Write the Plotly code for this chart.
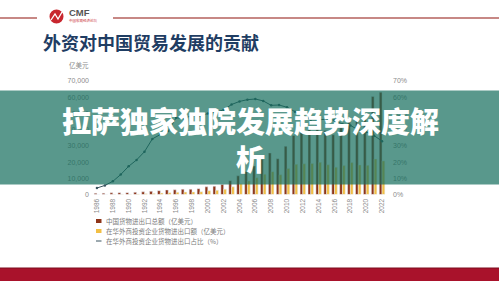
import plotly.graph_objects as go

W, H = 499, 281

years = [str(y) for y in range(1986, 2023)]
china_total = [738, 827, 1028, 1117, 1154, 1357, 1655, 1957, 2366, 2809, 2899, 3252, 3239,
               3606, 4743, 5097, 6208, 8510, 11546, 14219, 17604, 21762, 25633, 22075, 29740,
               36419, 38671, 41590, 43015, 39530, 36856, 41071, 46224, 45779, 46559, 60515, 63096]
fie_trade = [30, 46, 83, 137, 201, 289, 437, 670, 876, 1098, 1371, 1526, 1577, 1745, 2367,
             2591, 3302, 4723, 6631, 8317, 10364, 12549, 14106, 12174, 16003, 18601, 18940,
             19191, 19840, 18346, 16874, 17816, 19681, 18239, 17976, 21952, 20730]
fie_share = [4.0, 5.6, 8.1, 12.3, 17.4, 21.3, 26.4, 34.3, 37.0, 39.1, 47.3, 46.9, 48.7, 48.4,
             49.9, 50.8, 52.2, 55.5, 57.4, 58.5, 58.9, 57.7, 55.0, 55.2, 53.8, 51.1, 49.0,
             46.1, 46.1, 46.4, 45.8, 43.4, 42.6, 39.9, 38.6, 36.3, 32.9]

legend_names = ["中国货物进出口总额（亿美元）",
                "在华外商投资企业货物进出口额（亿美元）",
                "在华外商投资企业货物进出口占比（%）"]

C_TOTAL = "#8e3519"
C_FIE = "#f2bf45"
C_LINE = "#3b5560"


def X(px):
    return px / W


def Y(py):
    return 1 - py / H


fig = go.Figure()
fig.add_trace(go.Bar(x=years, y=china_total, marker_color=C_TOTAL, name=legend_names[0]))
fig.add_trace(go.Bar(x=years, y=fie_trade, marker_color=C_FIE, name=legend_names[1]))
fig.add_trace(go.Scatter(x=years, y=fie_share, yaxis="y2", mode="lines+markers",
                         line=dict(color=C_LINE, width=1), marker=dict(size=2.5, color=C_LINE),
                         name=legend_names[2]))

tickfont = dict(family="Liberation Sans, Arial", size=7, color="#8a8a8a")

fig.update_layout(
    width=W, height=H, margin=dict(l=0, r=0, t=0, b=0, autoexpand=False),
    paper_bgcolor="white", plot_bgcolor="rgba(0,0,0,0)",
    showlegend=False, barmode="group", bargap=0.3, bargroupgap=0,
    xaxis=dict(domain=[X(93), X(386)], type="category", range=[-0.5, len(years) - 0.5],
               tickangle=-90, automargin=False,
               tickfont=dict(family="Liberation Sans, Arial", size=6.5, color="#8a8a8a"),
               showgrid=False, zeroline=False, showline=False, ticks="", ticklabelstandoff=2),
    yaxis=dict(domain=[Y(194.5), Y(81)], range=[0, 70000], dtick=10000, tickformat=",d",
               tickfont=tickfont, showgrid=False, zeroline=False, showline=False,
               ticklabelstandoff=3, automargin=False),
    yaxis2=dict(overlaying="y", side="right", range=[0, 70], dtick=10, ticksuffix="%",
                tickfont=tickfont, showgrid=False, zeroline=False, showline=False,
                ticklabelstandoff=6, automargin=False),
)

shapes = []
annotations = []

# header line and logo
shapes.append(dict(type="line", xref="paper", yref="paper", x0=X(0), x1=X(37), y0=Y(18), y1=Y(18),
                   line=dict(color="#b5615c", width=1.6)))
shapes.append(dict(type="line", xref="paper", yref="paper", x0=X(113), x1=X(499), y0=Y(18), y1=Y(18),
                   line=dict(color="#b5615c", width=1.6)))
shapes.append(dict(type="circle", xref="paper", yref="paper", x0=X(49.5), x1=X(63.5), y0=Y(23.5), y1=Y(9.5),
                   fillcolor="#c8262e", line=dict(width=0)))
shapes.append(dict(type="path", xref="paper", yref="paper",
                   path=f"M {X(51)},{Y(20)} L {X(55)},{Y(14)} L {X(58)},{Y(19)} L {X(62)},{Y(12)}",
                   line=dict(color="white", width=1.3)))
annotations.append(dict(text="<b>CMF</b>", x=X(67), y=Y(13), xref="paper", yref="paper",
                        xanchor="left", yanchor="middle", showarrow=False,
                        font=dict(family="Liberation Sans, Arial", size=9.5, color="#555555")))
annotations.append(dict(text="中国宏观经济论坛", x=X(67), y=Y(20.5), xref="paper", yref="paper",
                        xanchor="left", yanchor="middle", showarrow=False,
                        font=dict(family="Noto Sans CJK SC", size=3.5, color="#c8262e")))

# title
annotations.append(dict(text="<b>外资对中国贸易发展的贡献</b>", x=X(41), y=Y(42), xref="paper", yref="paper",
                        xanchor="left", yanchor="middle", showarrow=False,
                        font=dict(family="Noto Sans CJK SC", size=18, color="#1f3d63")))
annotations.append(dict(text="亿美元", x=X(79), y=Y(65), xref="paper", yref="paper",
                        xanchor="center", yanchor="middle", showarrow=False,
                        font=dict(family="Noto Sans CJK SC", size=6.5, color="#8a8a8a")))

# manual legend
leg_y = [221, 231, 241]
shapes.append(dict(type="rect", xref="paper", yref="paper", x0=X(96), x1=X(101.5),
                   y0=Y(leg_y[0] + 2), y1=Y(leg_y[0] - 2), fillcolor=C_TOTAL, line=dict(width=0)))
shapes.append(dict(type="rect", xref="paper", yref="paper", x0=X(96), x1=X(101.5),
                   y0=Y(leg_y[1] + 2), y1=Y(leg_y[1] - 2), fillcolor=C_FIE, line=dict(width=0)))
shapes.append(dict(type="line", xref="paper", yref="paper", x0=X(96), x1=X(101.5),
                   y0=Y(leg_y[2]), y1=Y(leg_y[2]), line=dict(color=C_LINE, width=1)))
for name, ly in zip(legend_names, leg_y):
    annotations.append(dict(text=name, x=X(104), y=Y(ly), xref="paper", yref="paper",
                            xanchor="left", yanchor="middle", showarrow=False,
                            font=dict(family="Noto Sans CJK SC", size=6.5, color="#7a7a7a")))

# bottom red bar
shapes.append(dict(type="rect", xref="paper", yref="paper", x0=0, x1=1, y0=0, y1=Y(268),
                   fillcolor="#a9122b", line=dict(width=0)))
shapes.append(dict(type="line", xref="paper", yref="paper", x0=0, x1=1, y0=Y(268), y1=Y(268),
                   line=dict(color="#7d0d1f", width=1)))

# green banner overlay
shapes.append(dict(type="rect", xref="paper", yref="paper", x0=0, x1=1, y0=Y(184.5), y1=Y(90.5),
                   fillcolor="rgba(19,108,91,0.7)", line=dict(width=0), layer="above"))
annotations.append(dict(text="拉萨独家独院发展趋势深度解<br>析", x=X(250.5), y=Y(139),
                        xref="paper", yref="paper", xanchor="center", yanchor="middle",
                        showarrow=False, align="center",
                        font=dict(family="Noto Sans CJK SC", size=29, color="white", weight=900)))

fig.update_layout(shapes=shapes, annotations=annotations)
fig.write_html("out.html")
